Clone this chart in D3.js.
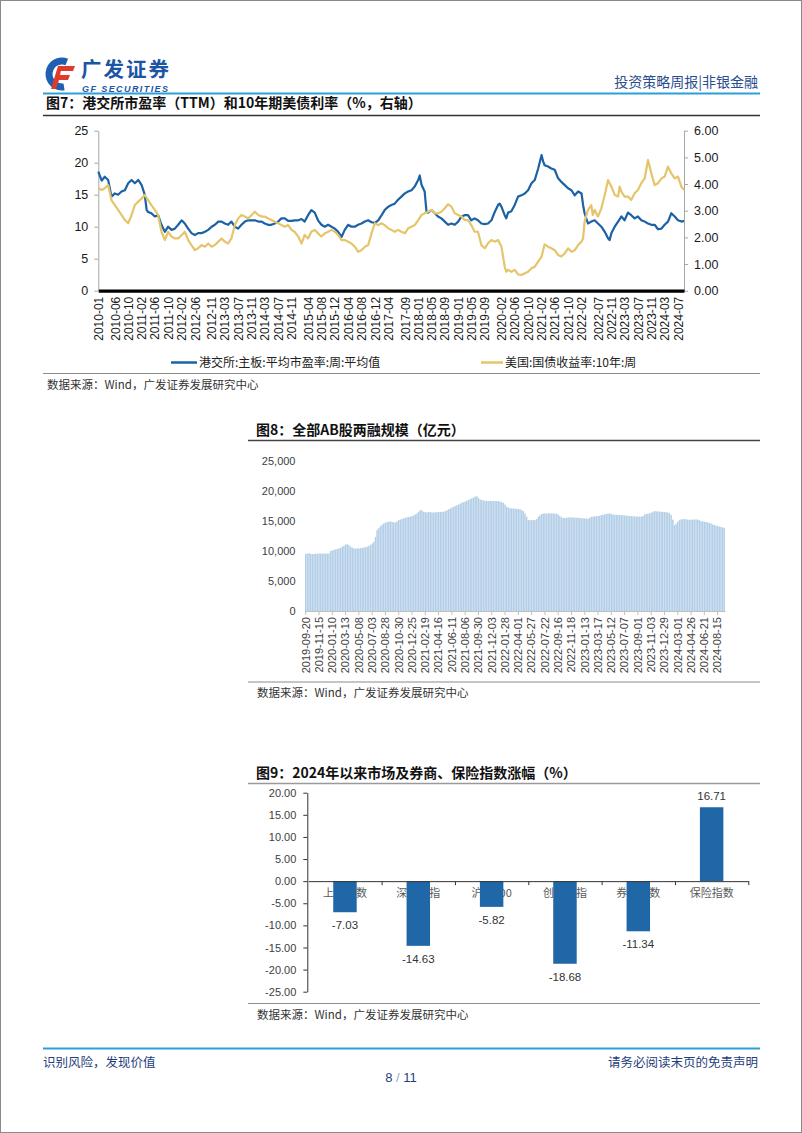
<!DOCTYPE html>
<html><head><meta charset="utf-8">
<script src="https://cdn.jsdelivr.net/npm/d3@7"></script>
<style>
body{margin:0;background:#fff;}
svg{display:block;}
text{font-family:"Liberation Sans",Arial,"Noto Sans CJK SC",sans-serif;}
.cjk{font-family:"Noto Sans CJK SC","Liberation Sans",sans-serif;}
</style></head><body>
<svg id="page" width="802" height="1133"></svg>
<script>
// ---------------- DATA ----------------
// Chart 7: HKEX main board average PE (weekly avg, read monthly) and US 10Y yield
const peStart = "2010-01";
const peMonthly = [
 18.6,17.2,17.8,17.3,14.7,15.2,15.0,15.5,15.7,16.8,17.3,16.8,
 17.3,16.5,15.0,12.3,12.1,11.6,11.8,10.3,9.2,10.0,9.5,9.7,
 10.3,11.0,10.5,9.7,9.0,8.7,9.0,9.0,9.2,9.5,10.0,10.3,
 10.8,10.8,10.5,10.3,10.8,10.0,9.7,10.3,10.8,11.0,11.0,11.0,
 10.8,10.8,10.5,10.3,10.3,10.5,10.8,11.3,11.3,10.9,10.9,11.0,
 11.0,11.2,10.8,11.8,12.6,12.2,11.0,10.3,10.0,10.3,10.0,9.7,
 9.2,8.4,9.5,10.3,10.0,10.0,10.3,10.5,10.8,11.0,10.7,10.6,
 11.0,11.8,12.6,13.1,13.4,13.6,14.2,14.7,15.2,15.5,15.7,16.3,
 17.3,16.5,15.5,12.2,12.6,12.1,11.6,11.3,10.8,10.3,10.5,10.3,
 10.8,11.6,11.8,11.8,11.0,11.3,11.0,10.5,10.4,10.5,11.0,12.3,
 13.4,13.1,11.8,12.2,12.4,13.4,14.7,14.9,15.2,15.7,16.8,17.3,
 19.1,21.2,19.6,19.4,19.1,18.9,17.6,17.0,16.5,16.0,15.7,14.9,
 15.5,15.2,12.1,10.5,10.8,11.0,10.5,10.0,9.2,8.2,9.0,10.0,
 10.8,11.6,11.0,12.2,11.8,11.3,11.6,11.0,10.8,10.5,10.3,10.3,
 9.6,9.7,10.3,10.8,12.1,11.6,11.0,10.8
];
const peExtraDates = ["2011-03-19","2018-01-15","2018-03-18","2020-01-15","2020-03-15","2021-02-15","2022-02-15","2022-10-15","2024-08-25"];
const peExtraValues = [12.6,18.0,12.3,13.6,11.3,20.2,13.4,7.9,10.9];

const yldStart = "2010-01";
const yldMonthly = [
 3.84,3.78,3.84,3.96,3.40,3.21,3.03,2.84,2.65,2.53,2.84,3.21,
 3.34,3.46,3.59,3.40,3.21,3.03,2.84,2.21,1.90,2.21,2.03,1.96,
 1.96,2.09,2.21,1.90,1.71,1.52,1.59,1.71,1.65,1.77,1.65,1.71,
 1.84,1.96,1.84,1.77,1.96,2.46,2.71,2.84,2.78,2.71,2.84,2.96,
 2.84,2.78,2.78,2.71,2.65,2.59,2.53,2.46,2.40,2.46,2.28,2.20,
 2.03,1.77,2.09,1.96,2.21,2.28,2.15,2.03,2.15,2.21,2.28,2.21,
 2.09,1.90,1.90,1.84,1.77,1.65,1.46,1.52,1.65,1.71,2.15,2.53,
 2.46,2.53,2.46,2.34,2.28,2.21,2.28,2.21,2.15,2.34,2.40,2.46,
 2.65,2.84,2.90,2.96,3.03,2.90,2.90,2.96,3.09,3.24,3.15,2.90,
 2.84,2.78,2.65,2.65,2.46,2.21,2.21,1.71,1.59,1.78,1.90,1.84,
 1.90,1.65,0.90,0.78,0.71,0.78,0.61,0.59,0.65,0.71,0.84,0.90,
 1.09,1.28,1.74,1.65,1.59,1.52,1.34,1.28,1.40,1.59,1.46,1.52,
 1.71,1.84,2.59,3.03,3.21,3.03,2.78,3.09,3.59,4.15,3.90,3.59,
 3.53,3.71,3.53,3.53,3.40,3.65,3.78,4.03,4.21,4.90,4.40,3.96,
 4.03,4.21,4.28,4.65,4.40,4.21,4.28,3.90
];
const yldExtraDates = ["2020-03-15","2022-02-15","2022-05-15","2023-01-15","2024-08-25"];
const yldExtraValues = [0.71,1.96,2.84,3.90,3.78];

const xLabels7 = ["2010-01","2010-06","2010-10","2011-02","2011-06","2011-10","2012-02","2012-06","2012-11","2013-03","2013-07","2013-11","2014-03","2014-07","2014-11","2015-04","2015-08","2015-12","2016-04","2016-08","2016-12","2017-04","2017-09","2018-01","2018-05","2018-09","2019-01","2019-05","2019-09","2020-02","2020-06","2020-10","2021-02","2021-06","2021-10","2022-02","2022-07","2022-11","2023-03","2023-07","2023-11","2024-03","2024-07"];
const yTicksL7 = [0,5,10,15,20,25];
const yTicksR7 = [0,1,2,3,4,5,6];
const legend7 = ["港交所:主板:平均市盈率:周:平均值","美国:国债收益率:10年:周"];

// Chart 8: margin trading balance (亿元), weekly
const margin8 = [
 9500,9550,9600,9500,9480,9500,9520,9530,9550,9540,9560,9550,9540,9560,9580,
 9970,10050,10150,10250,10300,10400,10500,10700,10850,11080,
 11100,10950,10700,10550,10400,10380,10400,10400,10450,10500,
 10550,10600,10700,10800,10970,11200,11520,12300,13460,13800,
 14130,14350,14570,14700,14800,14850,14900,14800,14750,14740,
 14900,15120,15200,15300,15400,15510,15600,15650,15700,15790,
 15900,16050,16230,16500,16790,16700,16510,16450,16400,16450,
 16450,16400,16380,16400,16450,16450,16480,16500,16510,16600,
 16750,16900,17050,17200,17320,17450,17600,17700,17850,18000,
 18100,18200,18340,18450,18600,18730,18850,19000,19110,18800,
 18560,18450,18400,18340,18300,18280,18300,18280,18300,18280,
 18280,18280,18200,18100,18000,17700,17340,17200,17100,17060,
 17050,17000,17010,16950,16900,16790,16600,16230,15700,15150,
 15120,15100,15120,15120,15300,15680,15900,16120,16200,16230,
 16200,16230,16250,16230,16230,16200,16150,16070,15800,15570,
 15500,15460,15500,15550,15570,15570,15550,15520,15510,15510,
 15480,15450,15420,15400,15380,15350,15500,15680,15700,15750,
 15780,15790,15850,15950,16000,16070,16150,16200,16230,16150,
 16050,16010,16000,15980,15960,15960,15920,15900,15860,15840,
 15800,15780,15750,15730,15720,15700,15690,15680,15800,16070,
 16100,16200,16230,16350,16500,16620,16600,16550,16520,16510,
 16480,16450,16420,16400,16250,15960,15200,14290,14500,14850,
 15100,15240,15280,15290,15250,15200,15180,15180,15200,15220,
 15240,15200,15100,14960,14900,14850,14800,14740,14650,14550,
 14400,14300,14200,14130,14050,14000,13900,13850
];
const xLabels8 = ["2019-09-20","2019-11-15","2020-01-10","2020-03-13","2020-05-08","2020-07-03","2020-08-28","2020-10-30","2020-12-25","2021-02-19","2021-04-16","2021-06-11","2021-08-06","2021-09-30","2021-12-03","2022-01-28","2022-04-01","2022-05-27","2022-07-22","2022-09-16","2022-11-18","2023-01-13","2023-03-17","2023-05-12","2023-07-07","2023-09-01","2023-11-03","2023-12-29","2024-03-01","2024-04-26","2024-06-21","2024-08-15"];
const labelEvery8 = 8;
const yTicks8 = [0,5000,10000,15000,20000,25000];

// Chart 9: YTD change (%)
const cats9 = ["上证指数","深证成指","沪深300","创业板指","券商指数","保险指数"];
const vals9 = [-7.03,-14.63,-5.82,-18.68,-11.34,16.71];
const yTicks9 = [-25,-20,-15,-10,-5,0,5,10,15,20];

// ---------------- PAGE ----------------
const svg = d3.select("#page");
svg.append("rect").attr("x",0.5).attr("y",0.5).attr("width",801).attr("height",1132)
  .attr("fill","#fff").attr("stroke","#8a8a8a");

// Header logo
const logo = svg.append("g");
logo.append("path")
  .attr("transform","translate(62,74)")
  .attr("d", d3.arc().innerRadius(9.5).outerRadius(16.5).startAngle(Math.PI*0.95).endAngle(Math.PI*2.12)())
  .attr("fill","#1d5fb0");
logo.append("path").attr("d","M58,66 L75,66 L73,71 L61,71 L60,75 L70,75 L68,80 L59,80 L56,89 L51,89 Z").attr("fill","#e03a2a");
logo.append("path").attr("d","M61,71 L73,71 L72.4,72.5 L60.6,72.5 Z").attr("fill","#fff");
logo.append("text").attr("class","cjk").attr("x",81).attr("y",77).attr("font-size",20.5).attr("font-weight",700)
  .attr("fill","#1b55a5").attr("textLength",88).text("广发证券");
logo.append("text").attr("x",82).attr("y",92).attr("font-size",9).attr("font-weight",700).attr("font-style","italic")
  .attr("fill","#1b55a5").attr("textLength",86).text("GF SECURITIES");
svg.append("text").attr("class","cjk").attr("x",758).attr("y",87).attr("text-anchor","end")
  .attr("font-size",14).attr("fill","#2a4d8f").text("投资策略周报|非银金融");
svg.append("line").attr("x1",43).attr("x2",760).attr("y1",93.5).attr("y2",93.5).attr("stroke","#2b9fd9").attr("stroke-width",2);

function title(x,y,t){
  svg.append("text").attr("class","cjk").attr("x",x).attr("y",y).attr("font-size",14).attr("font-weight",700)
    .attr("fill","#111").text(t);
}
function hline(x1,x2,y,c,w){
  svg.append("line").attr("x1",x1).attr("x2",x2).attr("y1",y).attr("y2",y).attr("stroke",c).attr("stroke-width",w);
}
function source(x,y){
  svg.append("text").attr("class","cjk").attr("x",x).attr("y",y).attr("font-size",11.5).attr("fill","#333")
    .text("数据来源：Wind，广发证券发展研究中心");
}

// ---------------- CHART 7 ----------------
title(46,108,"图7：港交所市盈率（TTM）和10年期美债利率（%，右轴）");
hline(43,760,115.5,"#333",1.6);

const parseM = d3.timeParse("%Y-%m");
const parseD = d3.timeParse("%Y-%m-%d");
function buildSeries(startMonth, monthly, exDates, exVals){
  const s = parseM(startMonth);
  const pts = monthly.map((v,i)=>({date:d3.timeMonth.offset(s,i), v:v}));
  exDates.forEach((d,i)=>pts.push({date:parseD(d), v:exVals[i]}));
  return pts.sort((a,b)=>a.date-b.date);
}
const peSeries = buildSeries(peStart, peMonthly, peExtraDates, peExtraValues);
const yldSeries = buildSeries(yldStart, yldMonthly, yldExtraDates, yldExtraValues);

const x7 = d3.scaleTime().domain([parseD("2010-01-01"), parseD("2024-08-25")]).range([98.3,684]);
const y7L = d3.scaleLinear().domain([0,25]).range([290.7,130.7]);
const y7R = d3.scaleLinear().domain([0,6]).range([290.7,130.7]);

const g7 = svg.append("g");
const axL = g7.append("g").attr("transform","translate(98.3,0)")
  .call(d3.axisLeft(y7L).tickValues(yTicksL7).tickSize(4).tickPadding(6).tickSizeOuter(0));
const axR = g7.append("g").attr("transform","translate(684,0)")
  .call(d3.axisRight(y7R).tickValues(yTicksR7).tickSize(4).tickPadding(6).tickSizeOuter(0).tickFormat(d=>d.toFixed(2)));
[axL,axR].forEach(a=>{
  a.selectAll(".domain,line").attr("stroke","#a6a6a6");
  a.selectAll("text").attr("font-size",12.5).attr("fill","#1a1a1a");
});

g7.append("path").datum(peSeries).attr("fill","none").attr("stroke","#1b62a5").attr("stroke-width",2.2)
  .attr("stroke-linejoin","round").attr("d", d3.line().x(d=>x7(d.date)).y(d=>y7L(d.v)));
g7.append("path").datum(yldSeries).attr("fill","none").attr("stroke","#e5c56b").attr("stroke-width",2.2)
  .attr("stroke-linejoin","round").attr("d", d3.line().x(d=>x7(d.date)).y(d=>y7R(d.v)));

const axB7 = g7.append("g").attr("transform","translate(0,290.7)")
  .call(d3.axisBottom(x7).tickValues(xLabels7.map(parseM)).tickFormat(d3.timeFormat("%Y-%m")).tickSize(0).tickSizeOuter(0));
axB7.select(".domain").attr("stroke","#000").attr("stroke-width",3.2);
axB7.selectAll("text").attr("font-size",12).attr("fill","#1a1a1a")
  .attr("transform","rotate(-90)").attr("text-anchor","end").attr("x",-6).attr("y",0).attr("dy","0.35em");

// legend
const lg = g7.append("g");
lg.append("line").attr("x1",171).attr("x2",197).attr("y1",362.5).attr("y2",362.5).attr("stroke","#1b62a5").attr("stroke-width",2.5);
lg.append("text").attr("class","cjk").attr("x",199).attr("y",366.8).attr("font-size",12).attr("fill","#222").text(legend7[0]);
lg.append("line").attr("x1",481).attr("x2",503).attr("y1",362.5).attr("y2",362.5).attr("stroke","#e5c56b").attr("stroke-width",2.5);
lg.append("text").attr("class","cjk").attr("x",505).attr("y",366.8).attr("font-size",12).attr("fill","#222").text(legend7[1]);

hline(43,760,373.5,"#8c8c8c",1.2);
source(47,389);

// ---------------- CHART 8 ----------------
title(256,435,"图8：全部AB股两融规模（亿元）");
hline(248,760,440.5,"#444",1.6);

const x8 = d3.scaleBand().domain(d3.range(margin8.length)).range([305,725]).paddingInner(0.12).paddingOuter(0);
const y8 = d3.scaleLinear().domain([0,25000]).range([611,460.7]);
const g8 = svg.append("g");
g8.append("g").selectAll("rect").data(margin8).join("rect")
  .attr("x",(d,i)=>x8(i)).attr("width",x8.bandwidth())
  .attr("y",d=>y8(d)).attr("height",d=>y8(0)-y8(d))
  .attr("fill","#b3cee7");
const ay8 = g8.append("g").attr("transform","translate(305,0)")
  .call(d3.axisLeft(y8).tickValues(yTicks8).tickFormat(d3.format(",")).tickSize(0).tickPadding(9.5));
ay8.select(".domain").remove();
ay8.selectAll("text").attr("font-size",11).attr("fill","#404040");
const tickIdx8 = xLabels8.map((d,k)=>k*labelEvery8);
const ax8 = g8.append("g").attr("transform","translate(0,611)")
  .call(d3.axisBottom(x8).tickValues(tickIdx8).tickFormat(i=>xLabels8[i/labelEvery8]).tickSize(4).tickSizeOuter(0));
ax8.selectAll(".domain,line").attr("stroke","#bfbfbf");
ax8.selectAll("text").attr("font-size",11).attr("fill","#404040")
  .attr("transform","rotate(-90)").attr("text-anchor","end").attr("x",-6).attr("y",0).attr("dy","0.35em");

hline(248,760,682,"#8c8c8c",1.2);
source(257,697);

// ---------------- CHART 9 ----------------
title(256,777.5,"图9：2024年以来市场及券商、保险指数涨幅（%）");
hline(248,760,783.5,"#9a9a9a",1.6);

const x9 = d3.scaleBand().domain(cats9).range([308.3,748.3]).paddingInner(0.68).paddingOuter(0.34);
const y9 = d3.scaleLinear().domain([-25,20]).range([991.7,792.7]);
const g9 = svg.append("g");
const ay9 = g9.append("g").attr("transform","translate(307.3,0)")
  .call(d3.axisLeft(y9).tickValues(yTicks9).tickFormat(d=>d.toFixed(2)).tickSize(4).tickPadding(7).tickSizeOuter(0));
ay9.selectAll(".domain,line").attr("stroke","#333");
ay9.selectAll("text").attr("font-size",11).attr("fill","#404040");

// category labels (drawn beneath bars)
const ax9 = g9.append("g").attr("transform",`translate(0,${y9(0)})`)
  .call(d3.axisBottom(x9).tickSize(0).tickPadding(8));
ax9.select(".domain").remove();
ax9.selectAll("text").attr("class","cjk").attr("font-size",11).attr("fill","#595959");

g9.append("g").selectAll("rect").data(vals9).join("rect")
  .attr("x",(d,i)=>x9(cats9[i])).attr("width",x9.bandwidth())
  .attr("y",d=>y9(Math.max(0,d))).attr("height",d=>Math.abs(y9(d)-y9(0)))
  .attr("fill","#2067a8");

// zero axis with category boundary ticks
const xb9 = d3.scaleLinear().domain([0,cats9.length]).range(x9.range());
const az9 = g9.append("g").attr("transform",`translate(0,${y9(0)})`)
  .call(d3.axisBottom(xb9).tickValues(d3.range(1,cats9.length+1)).tickFormat("").tickSize(4).tickSizeOuter(0));
az9.selectAll(".domain,line").attr("stroke","#333");

g9.append("g").selectAll("text").data(vals9).join("text")
  .attr("x",(d,i)=>x9(cats9[i])+x9.bandwidth()/2)
  .attr("y",d=> d>=0 ? y9(d)-7 : y9(d)+17)
  .attr("text-anchor","middle").attr("font-size",11.5).attr("fill","#333")
  .text(d=>d.toFixed(2));

hline(248,760,1003.5,"#8c8c8c",1.2);
source(257,1019);

// ---------------- FOOTER ----------------
hline(43,760,1048.5,"#2aa0da",2);
svg.append("text").attr("class","cjk").attr("x",43).attr("y",1067).attr("font-size",12.5).attr("fill","#1f3e7c").text("识别风险，发现价值");
svg.append("text").attr("class","cjk").attr("x",758).attr("y",1067).attr("text-anchor","end").attr("font-size",12.5).attr("fill","#1f3e7c").text("请务必阅读末页的免责声明");
const pg = svg.append("text").attr("x",401).attr("y",1082).attr("text-anchor","middle").attr("font-size",13).attr("fill","#1f3e7c");
pg.append("tspan").text("8 ");
pg.append("tspan").attr("fill","#9aa8c0").text("/");
pg.append("tspan").text(" 11");
</script>
</body></html>
